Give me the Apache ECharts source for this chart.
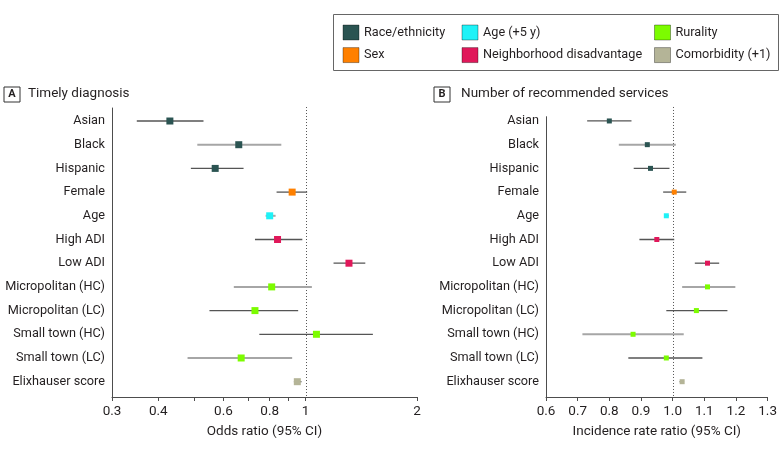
<!DOCTYPE html>
<html>
<head>
<meta charset="utf-8">
<script src="https://cdn.jsdelivr.net/npm/echarts@6/dist/echarts.min.js"></script>
<style>html,body{margin:0;padding:0;background:#fff}#c{width:780px;height:452px}</style>
</head>
<body>
<div id="c"></div>
<script>
// ---------- data ----------
const categories = ['Asian','Black','Hispanic','Female','Age','High ADI','Low ADI','Micropolitan (HC)','Micropolitan (LC)','Small town (HC)','Small town (LC)','Elixhauser score'];
const rowGroup = ['Race/ethnicity','Race/ethnicity','Race/ethnicity','Sex','Age (+5 y)','Neighborhood disadvantage','Neighborhood disadvantage','Rurality','Rurality','Rurality','Rurality','Comorbidity (+1)'];
const groups = ['Race/ethnicity','Sex','Age (+5 y)','Neighborhood disadvantage','Rurality','Comorbidity (+1)'];

// Panel A: odds ratio (95% CI)
const orEst  = [0.43, 0.66, 0.57, 0.92, 0.80, 0.84, 1.31, 0.81, 0.73, 1.07, 0.67, 0.95];
const orLow  = [0.35, 0.51, 0.49, 0.835,0.78, 0.73, 1.19, 0.64, 0.55, 0.75, 0.48, 0.93];
const orHigh = [0.53, 0.86, 0.68, 1.01, 0.83, 0.98, 1.45, 1.04, 0.955,1.52, 0.92, 0.975];

// Panel B: incidence rate ratio (95% CI)
const irrEst  = [0.80, 0.92, 0.93, 1.005, 0.98, 0.95, 1.11, 1.11, 1.075, 0.875, 0.98, 1.03];
const irrLow  = [0.73, 0.83, 0.877,0.97,  0.975,0.895,1.07, 1.03, 0.98,  0.715, 0.86, 1.022];
const irrHigh = [0.87, 1.01, 0.99, 1.043, 0.987,1.005,1.147,1.198,1.173, 1.035, 1.094,1.036];

// tick values
const ticksA = [0.3,0.4,0.5,0.6,0.7,0.8,0.9,1,2];
const tickLabelsA = [0.3,0.4,0.6,0.8,1,2];
const tickLabelsB = [0.6,0.7,0.8,0.9,1.0,1.1,1.2,1.3];
const refValue = 1;

// ---------- styles ----------
const groupColors = {
  'Race/ethnicity':'#2b5452',
  'Sex':'#ff8000',
  'Age (+5 y)':'#1ef2f7',
  'Neighborhood disadvantage':'#e0185a',
  'Rurality':'#7cfc00',
  'Comorbidity (+1)':'#b4b497'
};
const lightRowsA = ['Black','Age','Micropolitan (HC)','Small town (LC)'];
const lightRowsB = ['Black','Micropolitan (HC)','Small town (HC)'];
const FONT = 'Roboto';
const TXT = '#231f20';
const AX = '#4d4d4d';
const lg = v => Math.log10(v);

const chart = echarts.init(document.getElementById('c'), null, {renderer:'canvas'});

const rowIdx = categories.map((_, i) => i);
const yMinA = -0.549, yMinB = -0.18, yMax = 11.646;

function yAxisCfg(gridIndex, min) {
  return {
    type:'value', gridIndex, inverse:true, min, max:yMax,
    axisLine:{show:true, onZero:false, lineStyle:{color:AX, width:1}},
    axisTick:{show:false},
    splitLine:{show:false},
    axisLabel:{
      customValues: rowIdx, margin:7,
      fontFamily:FONT, fontSize:12.7, color:TXT,
      formatter: v => categories[Math.round(v)] || ''
    }
  };
}

function ciSeries(name, xAxisIndex, yAxisIndex, lows, highs, lightRows, tf) {
  return {
    type:'custom', name, xAxisIndex, yAxisIndex, z:2, silent:true,
    data: categories.map((c, i) => [tf(lows[i]), tf(highs[i]), i]),
    encode:{x:[0,1], y:2},
    renderItem(params, api) {
      const i = api.value(2);
      const p1 = api.coord([api.value(0), i]);
      const p2 = api.coord([api.value(1), i]);
      const light = lightRows.indexOf(categories[i]) >= 0;
      return {type:'line', shape:{x1:p1[0], y1:p1[1], x2:p2[0], y2:p2[1]},
        style:{stroke: light ? '#a6a6a6' : '#555', lineWidth: light ? 2 : 1.3}};
    }
  };
}

function refSeries(xAxisIndex, yAxisIndex, tf) {
  return {
    type:'custom', xAxisIndex, yAxisIndex, z:1, silent:true, clip:false,
    data:[[tf(refValue), -0.59, yMax]],
    encode:{x:0, y:[1,2]},
    renderItem(params, api) {
      const p1 = api.coord([api.value(0), api.value(1)]);
      const p2 = api.coord([api.value(0), api.value(2)]);
      const x = Math.round(p1[0]) + 0.5;
      return {type:'line', shape:{x1:x, y1:p1[1], x2:x, y2:p2[1]},
        style:{stroke:'#555', lineWidth:1, lineDash:[1,2]}};
    }
  };
}

function pointSeries(xAxisIndex, yAxisIndex, est, tf, size) {
  return groups.map(g => ({
    type:'scatter', name:g, xAxisIndex, yAxisIndex, z:5,
    symbol:'rect', symbolSize:size,
    itemStyle:{color:groupColors[g], opacity:1},
    data: categories.map((c, i) => rowGroup[i] === g ? [tf(est[i]), i] : null).filter(d => d)
  }));
}

const ident = v => v;

const series = [
  refSeries(0, 0, lg),
  refSeries(1, 1, ident),
  ciSeries('ciA', 0, 0, orLow, orHigh, lightRowsA, lg),
  ciSeries('ciB', 1, 1, irrLow, irrHigh, lightRowsB, ident),
  ...pointSeries(0, 0, orEst, lg, 7),
  ...pointSeries(1, 1, irrEst, ident, 5)
];

function legendCfg(left, names) {
  return {
    orient:'vertical', left, top:19.5, itemGap:6.6, padding:5,
    itemWidth:16, itemHeight:15, icon:'rect',
    itemStyle:{borderColor:'rgba(0,0,0,0.35)', borderWidth:1},
    textStyle:{fontFamily:FONT, fontSize:12.7, color:TXT},
    selectedMode:false,
    data: names
  };
}

function panelLabel(x, y, letter, title, tx) {
  return [
    {type:'rect', shape:{x:x, y:y, width:16, height:15}, style:{fill:'#fff', stroke:'#333', lineWidth:1}},
    {type:'text', x:x+8, y:y+7.5, style:{text:letter, font:'bold 11px '+FONT, fill:TXT, align:'center', verticalAlign:'middle'}},
    {type:'text', x:tx, y:y+7, style:{text:title, font:'13.5px '+FONT, fill:TXT, align:'left', verticalAlign:'middle'}}
  ];
}

const option = {
  animation:false,
  backgroundColor:'#fff',
  grid:[
    {left:112, top:108, width:305, height:289},
    {left:546, top:116.7, width:224, height:280.3}
  ],
  xAxis:[
    {
      type:'value', gridIndex:0, min:lg(0.3), max:lg(2),
      axisLine:{show:true, onZero:false, lineStyle:{color:AX}},
      axisTick:{show:true, customValues: ticksA.map(lg), length:4, lineStyle:{color:AX}},
      axisLabel:{customValues: tickLabelsA.map(lg), margin:8, fontFamily:FONT, fontSize:13.5, color:TXT,
        formatter: v => String(Math.round(Math.pow(10, v) * 10) / 10)},
      splitLine:{show:false},
      name:'Odds ratio (95% CI)', nameLocation:'middle', nameGap:28,
      nameTextStyle:{fontFamily:FONT, fontSize:13.5, color:TXT}
    },
    {
      type:'value', gridIndex:1, min:0.6, max:1.3, interval:0.1,
      axisLine:{show:true, onZero:false, lineStyle:{color:AX}},
      axisTick:{show:true, length:4, lineStyle:{color:AX}},
      axisLabel:{customValues: tickLabelsB, margin:8, fontFamily:FONT, fontSize:13.5, color:TXT,
        formatter: v => v.toFixed(1)},
      splitLine:{show:false},
      name:'Incidence rate ratio (95% CI)', nameLocation:'middle', nameGap:28,
      nameTextStyle:{fontFamily:FONT, fontSize:13.5, color:TXT}
    }
  ],
  yAxis:[ yAxisCfg(0, yMinA), yAxisCfg(1, yMinB) ],
  legend:[
    legendCfg(337.5, ['Race/ethnicity','Sex']),
    legendCfg(456.5, ['Age (+5 y)','Neighborhood disadvantage']),
    legendCfg(649, ['Rurality','Comorbidity (+1)'])
  ],
  graphic:[
    {type:'rect', shape:{x:333.5, y:14.5, width:445, height:56}, style:{fill:'none', stroke:'#666', lineWidth:1}, z:-1},
    ...panelLabel(4, 87, 'A', 'Timely diagnosis', 28),
    ...panelLabel(434, 87, 'B', 'Number of recommended services', 461)
  ],
  series
};
chart.setOption(option);
</script>
</body>
</html>
